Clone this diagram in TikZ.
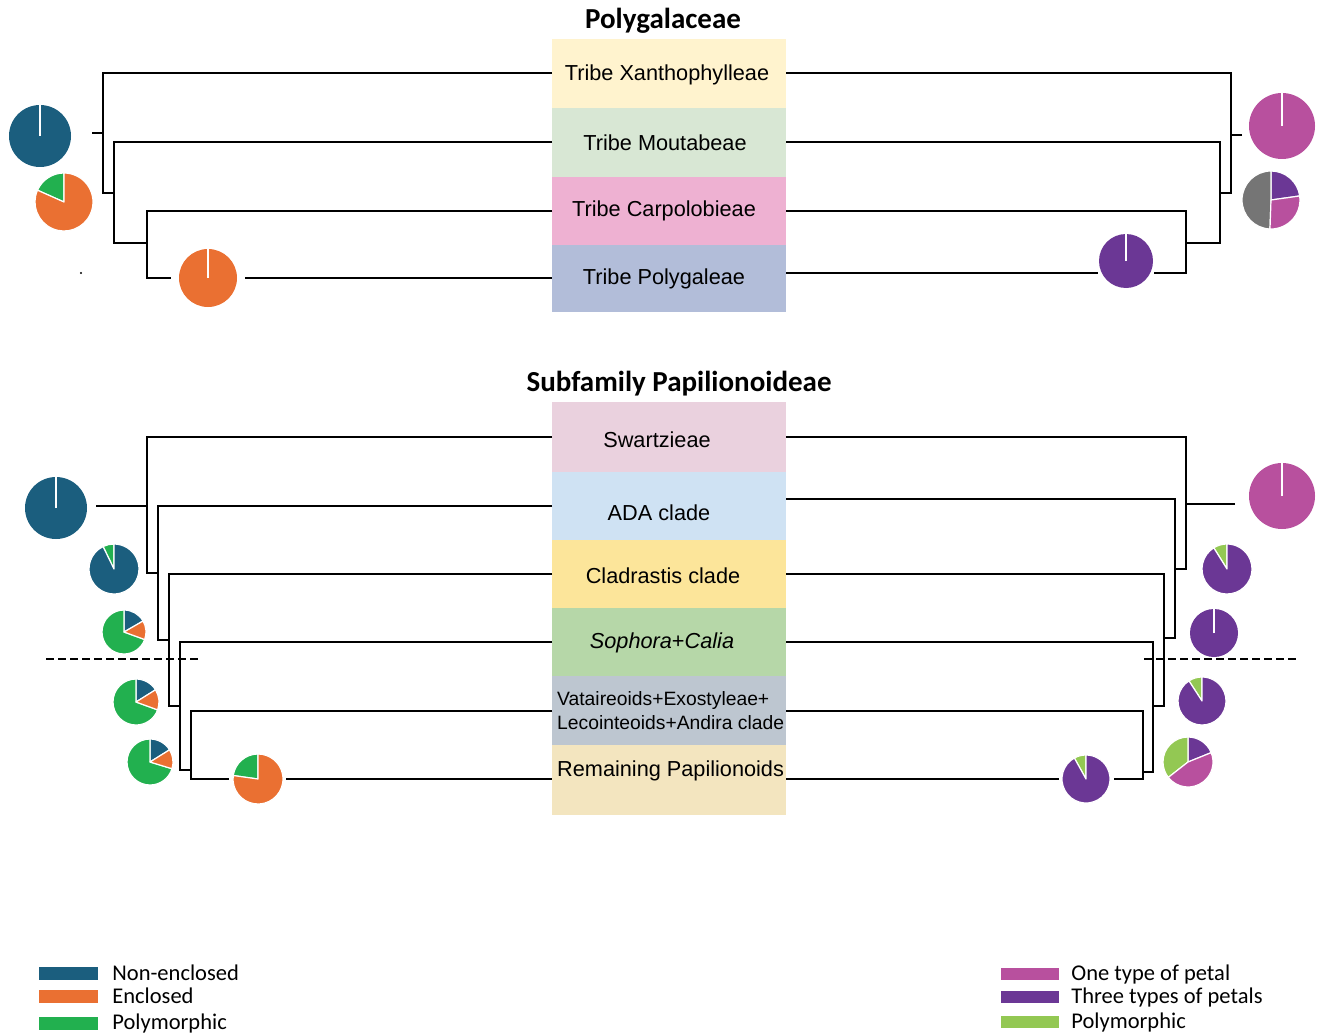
\documentclass[tikz,border=0pt]{standalone}
\usepackage{fontspec}
\setmainfont{Liberation Sans}
\newfontfamily\titlefont{Carlito}
\usepackage{xcolor}
\usepackage{tikz}
\usetikzlibrary{positioning}

\definecolor{blueC}{HTML}{1B5E7E}
\definecolor{orangeC}{HTML}{EA7032}
\definecolor{greenC}{HTML}{22B04F}
\definecolor{pinkC}{HTML}{B8509E}
\definecolor{purpleC}{HTML}{6B3795}
\definecolor{limeC}{HTML}{93C853}
\definecolor{grayC}{HTML}{757575}
\definecolor{xanC}{HTML}{FFF3CE}
\definecolor{mouC}{HTML}{D8E7D4}
\definecolor{carC}{HTML}{EEB1D2}
\definecolor{polC}{HTML}{B2BDD9}
\definecolor{swaC}{HTML}{EAD1DE}
\definecolor{adaC}{HTML}{CFE2F3}
\definecolor{claC}{HTML}{FCE59A}
\definecolor{sopC}{HTML}{B6D7A8}
\definecolor{vatC}{HTML}{BDC6D0}
\definecolor{remC}{HTML}{F3E5BF}

\newcommand{\slicepart}[5]{\filldraw[fill=#5, draw=white, line width=1.2pt, line join=round]
  (#1.center) -- ++(#3:#2) arc[start angle=#3, end angle=#4, radius=#2] -- cycle;}
\newcommand{\fullpie}[3]{\fill[#3] (#1.center) circle[radius=#2];
  \draw[white, line width=1.2pt] (#1.center) -- ++(90:#2);}

\begin{document}
\begin{tikzpicture}[x=1pt, y=-1pt,
  branch/.style={line width=2pt},
  tribe/.style={minimum width=234pt, inner sep=0pt, outer sep=0pt},
  tribetext/.style={font=\fontsize{21.7}{24}\selectfont, inner sep=0pt},
  heading/.style={font=\titlefont\bfseries\fontsize{29}{30}\selectfont, inner sep=0pt},
  pienode/.style={circle, inner sep=0pt, outer sep=0pt},
  swatch/.style={minimum width=59pt, minimum height=13pt, inner sep=0pt},
  legtext/.style={font=\titlefont\fontsize{22.5}{24}\selectfont, inner sep=0pt, anchor=west},
  cut/.style={line width=2pt, dash pattern=on 8pt off 4pt}]
  \useasboundingbox (0,0) rectangle (1319,1035);

  % Polygalaceae
  \node[heading] (famT) at (663,21) {Polygalaceae};
  \node[tribe, fill=xanC, minimum height=69pt] (xan) at (669,73.5) {};
  \node[tribe, fill=mouC, minimum height=69pt] (mou) at (669,142.5) {};
  \node[tribe, fill=carC, minimum height=68pt] (car) at (669,211) {};
  \node[tribe, fill=polC, minimum height=67pt] (pol) at (669,278.5) {};
  \node[tribetext] (xanT) at (667,75) {Tribe Xanthophylleae};
  \node[tribetext] (mouT) at (665,143) {Tribe Moutabeae};
  \node[tribetext] (carT) at (664,211) {Tribe Carpolobieae};
  \node[tribetext] (polT) at (664,279) {Tribe Polygaleae};

  % left tree (enclosure)
  \coordinate (pL0) at (92,133);
  \coordinate (pL1) at (103,133);
  \coordinate (pL2) at (114,193);
  \coordinate (pL3) at (147,243);
  \node[pienode, minimum size=58pt] (pgL) at (208,278) {};
  \draw[branch] (pL0) -- (pL1);
  \draw[branch] (xan.west) -| (pL1) |- (pL2);
  \draw[branch] (mou.west) -| (pL2) |- (pL3);
  \draw[branch, shorten >=8pt] (car.west) -| (pL3) |- (pgL);
  \draw[branch, shorten <=8pt] (pgL.east) -- (pgL.east -| pol.west);

  % right tree (petals)
  \coordinate (pR0) at (1242,135);
  \coordinate (pR1) at (1231,135);
  \coordinate (pR2) at (1220,193);
  \coordinate (pR3) at (1186,243);
  \node[pienode, minimum size=54pt] (pgR) at (1126,261) {};
  \draw[branch] (pR0) -- (pR1);
  \draw[branch] (xan.east) -| (pR1) |- (pR2);
  \draw[branch] (mou.east) -| (pR2) |- (pR3);
  \draw[branch, shorten >=28pt] (car.east) -| (pR3) |- ([yshift=-12pt]pgR.center);
  \draw[branch, shorten >=28pt] ([yshift=5.5pt]pol.east) -- ([yshift=-12pt]pgR.center);

  % pies
  \node[pienode, minimum size=62pt] (pA) at (40,136) {};
  \node[pienode, minimum size=58pt] (pB) at (64,202) {};
  \node[pienode, minimum size=66pt] (pC) at (1282,126) {};
  \node[pienode, minimum size=58pt] (pD) at (1271,200) {};
  \fullpie{pA}{31pt}{blueC}
  \slicepart{pB}{29pt}{90}{156}{greenC}
  \slicepart{pB}{29pt}{156}{450}{orangeC}
  \fullpie{pgL}{29pt}{orangeC}
  \fullpie{pgR}{27pt}{purpleC}
  \fullpie{pC}{33pt}{pinkC}
  \slicepart{pD}{29pt}{8}{90}{purpleC}
  \slicepart{pD}{29pt}{90}{268}{grayC}
  \slicepart{pD}{29pt}{268}{368}{pinkC}
  \fill (81,273) circle[radius=1.2pt];

  % Papilionoideae
  \node[heading] (subT) at (679,384) {Subfamily Papilionoideae};
  \node[tribe, fill=swaC, minimum height=70pt] (swa) at (669,437) {};
  \node[tribe, fill=adaC, minimum height=68pt] (ada) at (669,506) {};
  \node[tribe, fill=claC, minimum height=68pt] (cla) at (669,574) {};
  \node[tribe, fill=sopC, minimum height=68pt] (sop) at (669,642) {};
  \node[tribe, fill=vatC, minimum height=69pt] (vat) at (669,710.5) {};
  \node[tribe, fill=remC, minimum height=70pt] (rem) at (669,780) {};
  \node[tribetext] (swaT) at (657,440) {Swartzieae};
  \node[tribetext] (adaT) at (659,513) {ADA clade};
  \node[tribetext] (claT) at (663,576) {Cladrastis clade};
  \node[tribetext] (sopT) at (662,643) {\textit{Sophora}+\textit{Calia}};
  \node[tribetext, font=\fontsize{19.3}{24}\selectfont, align=left, anchor=west] (vatT) at (557,711)
    {Vataireoids+Exostyleae+\\Lecointeoids+Andira clade};
  \node[tribetext, anchor=west] (remT) at (557,771) {Remaining Papilionoids};

  % left tree
  \coordinate (sL0) at (96,506);
  \coordinate (sL1) at (147,506);
  \coordinate (sL2) at (158,573);
  \coordinate (sL3) at (169,640);
  \coordinate (sL4) at (180,706);
  \coordinate (sL5) at (191,770);
  \node[pienode, minimum size=50pt] (rpL) at (258,779) {};
  \draw[branch] (sL0) -- (sL1);
  \draw[branch] (swa.west) -| (sL1) |- (sL2);
  \draw[branch] (ada.west) -| (sL2) |- (sL3);
  \draw[branch] (cla.west) -| (sL3) |- (sL4);
  \draw[branch] (sop.west) -| (sL4) |- (sL5);
  \draw[branch, shorten >=4pt] (vat.west) -| (sL5) |- (rpL);
  \draw[branch, shorten <=3pt] (rpL.east) -- (rpL.east -| rem.west);

  % right tree
  \coordinate (sR0) at (1235,504);
  \coordinate (sR1) at (1186,504);
  \coordinate (sR2) at (1175,569);
  \coordinate (sR3) at (1164,638);
  \coordinate (sR4) at (1153,706);
  \coordinate (sR5) at (1143,772);
  \node[pienode, minimum size=48pt] (rpR) at (1086,779) {};
  \draw[branch] (sR0) -- (sR1);
  \draw[branch] (swa.east) -| (sR1) |- (sR2);
  \draw[branch] ([yshift=7pt]ada.east) -| (sR2) |- (sR3);
  \draw[branch] (cla.east) -| (sR3) |- (sR4);
  \draw[branch] (sop.east) -| (sR4) |- (sR5);
  \draw[branch, shorten >=4pt] (vat.east) -| (sR5) |- (rpR);
  \draw[branch, shorten >=3pt] (rpR.west -| rem.east) -- (rpR.west);

  % dashed cut
  \draw[cut] (46,659) -- (199,659);
  \draw[cut] (1144,659) -- (1297,659);

  % pies
  \node[pienode, minimum size=62pt] (pE) at (56,508) {};
  \node[pienode, minimum size=50pt] (pF) at (114,569) {};
  \node[pienode, minimum size=44pt] (pG) at (124,632) {};
  \node[pienode, minimum size=46pt] (pH) at (136,702) {};
  \node[pienode, minimum size=46pt] (pI) at (150,762) {};
  \fullpie{pE}{31pt}{blueC}
  \slicepart{pF}{25pt}{90}{116}{greenC}
  \slicepart{pF}{25pt}{116}{450}{blueC}
  \slicepart{pG}{22pt}{30}{90}{blueC}
  \slicepart{pG}{22pt}{90}{340}{greenC}
  \slicepart{pG}{22pt}{340}{390}{orangeC}
  \slicepart{pH}{23pt}{32}{90}{blueC}
  \slicepart{pH}{23pt}{90}{340}{greenC}
  \slicepart{pH}{23pt}{340}{392}{orangeC}
  \slicepart{pI}{23pt}{32}{90}{blueC}
  \slicepart{pI}{23pt}{90}{343}{greenC}
  \slicepart{pI}{23pt}{343}{392}{orangeC}
  \slicepart{rpL}{25pt}{90}{172}{greenC}
  \slicepart{rpL}{25pt}{172}{450}{orangeC}

  \node[pienode, minimum size=66pt] (pJ) at (1282,496) {};
  \node[pienode, minimum size=50pt] (pK) at (1227,569) {};
  \node[pienode, minimum size=48pt] (pL) at (1214,633) {};
  \node[pienode, minimum size=48pt] (pM) at (1202,701) {};
  \node[pienode, minimum size=50pt] (pN) at (1188,762) {};
  \fullpie{pJ}{33pt}{pinkC}
  \slicepart{pK}{25pt}{90}{122}{limeC}
  \slicepart{pK}{25pt}{122}{450}{purpleC}
  \fullpie{pL}{24pt}{purpleC}
  \slicepart{pM}{24pt}{90}{123}{limeC}
  \slicepart{pM}{24pt}{123}{450}{purpleC}
  \slicepart{pN}{25pt}{22}{90}{purpleC}
  \slicepart{pN}{25pt}{90}{218}{limeC}
  \slicepart{pN}{25pt}{218}{382}{pinkC}
  \slicepart{rpR}{24pt}{90}{119}{limeC}
  \slicepart{rpR}{24pt}{119}{450}{purpleC}

  % legends
  \node[swatch, fill=blueC] (swNon) at (68.5,973) {};
  \node[swatch, fill=orangeC] (swEnc) at (68.5,996) {};
  \node[swatch, fill=greenC] (swPol) at (68.5,1023.5) {};
  \node[legtext, right=14pt of swNon] (txNon) {Non-enclosed};
  \node[legtext, right=14pt of swEnc] (txEnc) {Enclosed};
  \node[legtext, right=14pt of swPol] (txPol) {Polymorphic};

  \node[swatch, fill=pinkC, minimum width=58pt, minimum height=12pt] (swOne) at (1030,974) {};
  \node[swatch, fill=purpleC, minimum width=58pt, minimum height=12pt] (swThr) at (1030,997) {};
  \node[swatch, fill=limeC, minimum width=58pt, minimum height=12pt] (swPly) at (1030,1022) {};
  \node[legtext, right=12pt of swOne] (txOne) {One type of petal};
  \node[legtext, right=12pt of swThr] (txThr) {Three types of petals};
  \node[legtext, right=12pt of swPly] (txPly) {Polymorphic};
\end{tikzpicture}
\end{document}
